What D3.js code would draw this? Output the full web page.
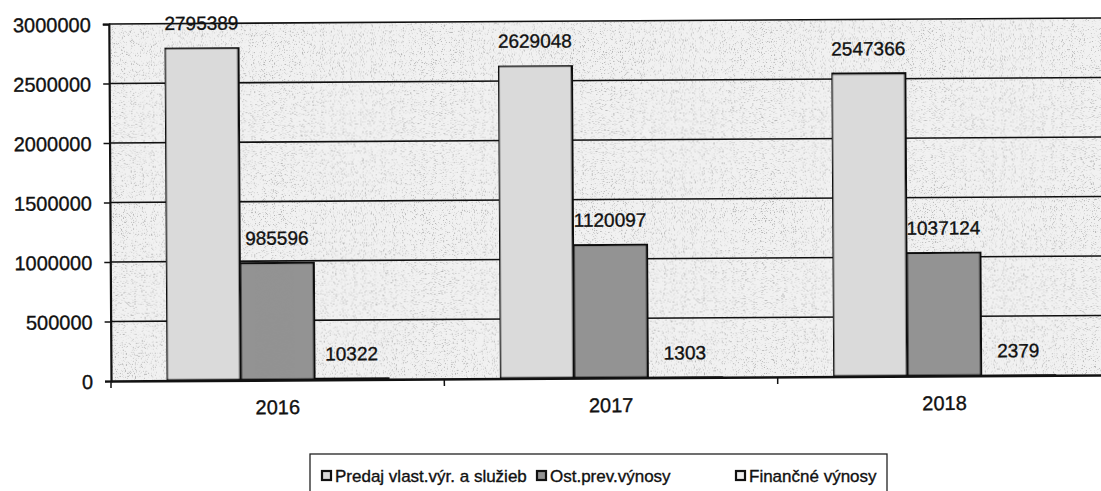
<!DOCTYPE html>
<html>
<head>
<meta charset="utf-8">
<script src="https://cdn.jsdelivr.net/npm/d3@7"></script>
<style>
  html, body { margin: 0; padding: 0; background: #ffffff; }
  svg { display: block; }
  text { font-family: "Liberation Sans", Arial, sans-serif; fill: #111; stroke: #111; stroke-width: 0.35px; }
</style>
</head>
<body>
<svg id="chart" width="1101" height="491"></svg>
<script>
// ---- data ----
const categories = ["2016", "2017", "2018"];
const seriesNames = ["Predaj vlast.výr. a služieb", "Ost.prev.výnosy", "Finančné výnosy"];
const predajValues = [2795389, 2629048, 2547366];
const ostValues = [985596, 1120097, 1037124];
const financneValues = [10322, 1303, 2379];
const yTicks = [0, 500000, 1000000, 1500000, 2000000, 2500000, 3000000];

const seriesValues = [predajValues, ostValues, financneValues];
const seriesFill = ["#dadada", "#939393", "#f0f0f0"];

const svg = d3.select("#chart");
const defs = svg.append("defs");

// stipple texture to imitate the scanned print
function speckle(id, seed, freq, dark, k, cut) {
  const f = defs.append("filter").attr("id", id)
    .attr("x", 0).attr("y", 0).attr("width", 1).attr("height", 1);
  f.append("feTurbulence").attr("type", "fractalNoise").attr("baseFrequency", freq)
    .attr("numOctaves", 2).attr("seed", seed).attr("result", "noise");
  f.append("feColorMatrix").attr("in", "noise").attr("type", "matrix")
    .attr("values", `0 0 0 0 ${dark} 0 0 0 0 ${dark} 0 0 0 0 ${dark} ${k} 0 0 0 ${-cut}`)
    .attr("result", "spots");
  f.append("feComposite").attr("in", "spots").attr("in2", "SourceGraphic")
    .attr("operator", "in").attr("result", "clipped");
  const m = f.append("feMerge");
  m.append("feMergeNode").attr("in", "SourceGraphic");
  m.append("feMergeNode").attr("in", "clipped");
}
speckle("bgSpeck", 4, 0.9, 0.45, 6, 3.5);
speckle("barSpeck", 9, 1.0, 0.45, 5, 2.7);
speckle("darkSpeck", 11, 1.0, 0.2, 4, 2.0);

const pLeft = 111, pRight = 1111, pTop = 24, pBottom = 381;

const y = d3.scaleLinear().domain([0, 3000000]).range([pBottom, pTop]);
const x0 = d3.scaleBand().domain(categories).range([pLeft, pRight])
  .paddingInner(1 / 3).paddingOuter(1 / 6);
const x1 = d3.scaleBand().domain(d3.range(seriesNames.length)).range([0, x0.bandwidth()]);

const g = svg.append("g").attr("transform", `rotate(-0.35, ${pLeft}, ${pBottom})`);

// plot background
g.append("rect").attr("x", pLeft).attr("y", pTop).attr("width", pRight - pLeft)
  .attr("height", pBottom - pTop).attr("fill", "#f1f1f1").attr("filter", "url(#bgSpeck)");

// gridlines
g.append("g").selectAll("line").data(yTicks.filter(d => d > 0)).join("line")
  .attr("x1", pLeft).attr("x2", pRight)
  .attr("y1", d => y(d)).attr("y2", d => y(d))
  .attr("stroke", "#111").attr("stroke-width", 1.6);

// bars
const groups = g.append("g").selectAll("g").data(categories).join("g")
  .attr("transform", d => `translate(${x0(d)},0)`);

groups.selectAll("rect").data((c, ci) => seriesValues.map((vals, si) => ({ si, v: vals[ci] })))
  .join("rect")
  .attr("x", d => x1(d.si))
  .attr("width", x1.bandwidth())
  .attr("y", d => y(d.v))
  .attr("height", d => Math.max(0.5, y(0) - y(d.v)))
  .attr("fill", d => seriesFill[d.si])
  .attr("filter", d => d.si === 1 ? "url(#darkSpeck)" : "url(#barSpeck)")
  .attr("stroke", "#0a0a0a").attr("stroke-width", 2.8);

// value labels
groups.selectAll("text").data((c, ci) => seriesValues.map((vals, si) => ({ si, v: vals[ci] })))
  .join("text")
  .attr("x", d => x1(d.si) + x1.bandwidth() / 2)
  .attr("y", d => y(d.v) - 18)
  .attr("text-anchor", "middle")
  .attr("font-size", 19)
  .text(d => d.v);

// y axis
const yAxis = g.append("g").attr("transform", `translate(${pLeft},0)`)
  .call(d3.axisLeft(y).tickValues(yTicks).tickSize(6).tickPadding(12).tickFormat(d3.format("d")));
yAxis.select(".domain").attr("stroke", "#111").attr("stroke-width", 2.2);
yAxis.selectAll(".tick line").attr("stroke", "#111").attr("stroke-width", 1.5);
yAxis.selectAll(".tick text").attr("font-size", 20).attr("font-family", "Liberation Sans, Arial, sans-serif")
  .attr("fill", "#111").attr("dy", "0.36em");

// x axis
const xAxis = g.append("g").attr("transform", `translate(0,${pBottom})`)
  .call(d3.axisBottom(x0).tickSize(0).tickPadding(20));
xAxis.select(".domain").attr("stroke", "#111").attr("stroke-width", 2.6);
xAxis.selectAll(".tick text").attr("font-size", 20).attr("font-family", "Liberation Sans, Arial, sans-serif")
  .attr("fill", "#111");
// category separator ticks
const sepX = categories.map(c => x0(c) - x0.step() * x0.paddingOuter()).concat([pRight]);
g.append("g").selectAll("line").data(sepX).join("line")
  .attr("x1", d => d).attr("x2", d => d)
  .attr("y1", pBottom).attr("y2", pBottom + 7)
  .attr("stroke", "#111").attr("stroke-width", 1.5);

// legend
const legend = svg.append("g");
legend.append("rect").attr("x", 310).attr("y", 454).attr("width", 577).attr("height", 60)
  .attr("fill", "#fff").attr("stroke", "#222").attr("stroke-width", 1.3);
const legendX = [322, 537, 736];
const items = legend.selectAll("g.item").data(seriesNames).join("g").attr("class", "item")
  .attr("transform", (d, i) => `translate(${legendX[i]},471)`);
items.append("rect").attr("x", 0).attr("y", 0).attr("width", 9).attr("height", 9)
  .attr("fill", (d, i) => seriesFill[i]).attr("stroke", "#111").attr("stroke-width", 2.2);
items.append("text").attr("x", 13).attr("y", 11).attr("font-size", 17).text(d => d);
</script>
</body>
</html>
